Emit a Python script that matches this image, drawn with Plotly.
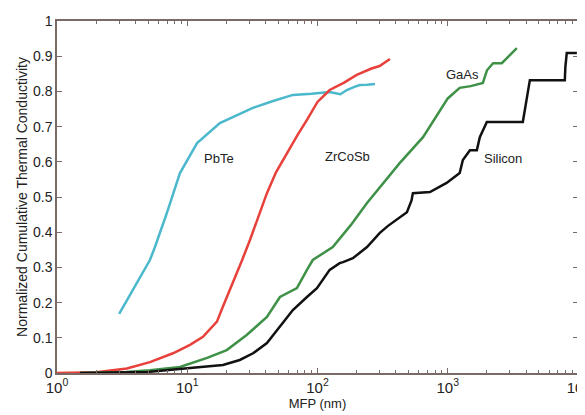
import math
import plotly.graph_objects as go

# PbTe
pbte_x = [3.0, 3.83, 5.17, 5.65, 6.98, 8.79, 11.9, 17.8, 24, 31.9, 45, 64.7, 90, 124, 150, 168, 190, 211, 240, 276]
pbte_y = [0.168, 0.236, 0.321, 0.358, 0.455, 0.568, 0.653, 0.710, 0.733, 0.753, 0.772, 0.790, 0.793, 0.798, 0.792, 0.804, 0.812, 0.818, 0.819, 0.821]

# ZrCoSb
zr_x = [1, 2, 3.44, 5.17, 7.77, 10.5, 13.2, 16.9, 18.8, 22.4, 26.4, 30.3, 35, 40.9, 48, 58.2, 70, 83, 100, 124, 160, 200, 260, 300, 360]
zr_y = [0, 0.002, 0.013, 0.031, 0.056, 0.08, 0.103, 0.146, 0.189, 0.255, 0.321, 0.378, 0.44, 0.511, 0.57, 0.625, 0.675, 0.719, 0.77, 0.804, 0.825, 0.847, 0.865, 0.872, 0.892]

# GaAs
ga_x = [1.5, 3.4, 5.17, 8.8, 14.2, 20.1, 28.6, 40.9, 51.5, 60, 69.5, 83, 92, 131, 180, 240, 320, 429, 646, 870, 1000, 1235, 1500, 1860, 2000, 2230, 2600, 3390]
ga_y = [0, 0.003, 0.008, 0.017, 0.043, 0.065, 0.108, 0.159, 0.216, 0.228, 0.241, 0.293, 0.321, 0.358, 0.42, 0.483, 0.54, 0.597, 0.670, 0.747, 0.78, 0.81, 0.815, 0.824, 0.86, 0.88, 0.88, 0.923]

# Silicon
si_x = [1.5, 5, 10.5, 18.8, 25.3, 32, 40.9, 51.5, 64.7, 83, 99, 124, 148, 157, 187, 240, 301, 348, 429, 486, 527, 540, 730, 980,
        1235, 1306, 1480, 1672, 1763, 1995, 3770, 3800, 4050, 4270, 7920, 8000, 8200, 9800]
si_y = [0, 0.003, 0.014, 0.023, 0.037, 0.056, 0.085, 0.131, 0.179, 0.216, 0.241, 0.293, 0.312, 0.315, 0.326, 0.358, 0.398, 0.418, 0.443, 0.457, 0.49, 0.511, 0.514, 0.54,
        0.568, 0.605, 0.633, 0.633, 0.67, 0.713, 0.713, 0.72, 0.784, 0.832, 0.832, 0.87, 0.909, 0.909]

labels = ["PbTe", "ZrCoSb", "GaAs", "Silicon"]
label_x = [17.5, 171, 1306, 2650]
label_y = [0.608, 0.616, 0.847, 0.61]

x_tickvals = [1, 10, 100, 1000, 10000]
x_ticktext = ["10<sup>0</sup>", "10<sup>1</sup>", "10<sup>2</sup>", "10<sup>3</sup>", "10<sup>4</sup>"]
x_minor = [m * d for d in [1, 10, 100, 1000] for m in range(2, 10)]
y_tickvals = [0, 0.1, 0.2, 0.3, 0.4, 0.5, 0.6, 0.7, 0.8, 0.9, 1]
y_ticktext = ["0", "0.1", "0.2", "0.3", "0.4", "0.5", "0.6", "0.7", "0.8", "0.9", "1"]

fig = go.Figure()
series = [
    (pbte_x, pbte_y, "#4bb8cc"),
    (zr_x, zr_y, "#e8403a"),
    (ga_x, ga_y, "#3e9147"),
    (si_x, si_y, "#111111"),
]
for xs, ys, c in series:
    fig.add_trace(go.Scatter(x=xs, y=ys, mode="lines", line=dict(color=c, width=2.5), showlegend=False))

for t, xx, yy in zip(labels, label_x, label_y):
    fig.add_annotation(x=math.log10(xx), y=yy, xref="x", yref="y", text=t, showarrow=False,
                       font=dict(family="Liberation Sans, Arial", size=13, color="#222"))

frame = "#7a6a66"
fig.update_layout(
    width=577, height=407,
    margin=dict(l=49, r=7, t=13, b=42, autoexpand=False),
    paper_bgcolor="white", plot_bgcolor="white",
    font=dict(family="Liberation Sans, Arial", size=14, color="#222"),
    xaxis=dict(type="log", range=[0, 4], tickmode="array", tickvals=x_tickvals, ticktext=x_ticktext,
               ticks="inside", ticklen=5, tickcolor=frame, showline=True, linecolor=frame, linewidth=1.5,
               mirror="ticks", showgrid=False, zeroline=False, automargin=False,
               ticklabeloverflow="allow", tickfont=dict(size=15),
               minor=dict(tickmode="array", tickvals=x_minor, ticks="inside", ticklen=3, tickcolor=frame, showgrid=False),
               title=dict(text="MFP (nm)", font=dict(size=13), standoff=0)),
    yaxis=dict(range=[0, 1], tickmode="array", tickvals=y_tickvals, ticktext=y_ticktext,
               ticks="inside", ticklen=5, tickcolor=frame, showline=True, linecolor=frame, linewidth=1.5,
               mirror="ticks", showgrid=False, zeroline=False, automargin=False,
               tickfont=dict(size=14),
               title=dict(text="Normalized Cumulative Thermal Conductivity", font=dict(size=14), standoff=2)),
)

fig.write_html("out.html")
